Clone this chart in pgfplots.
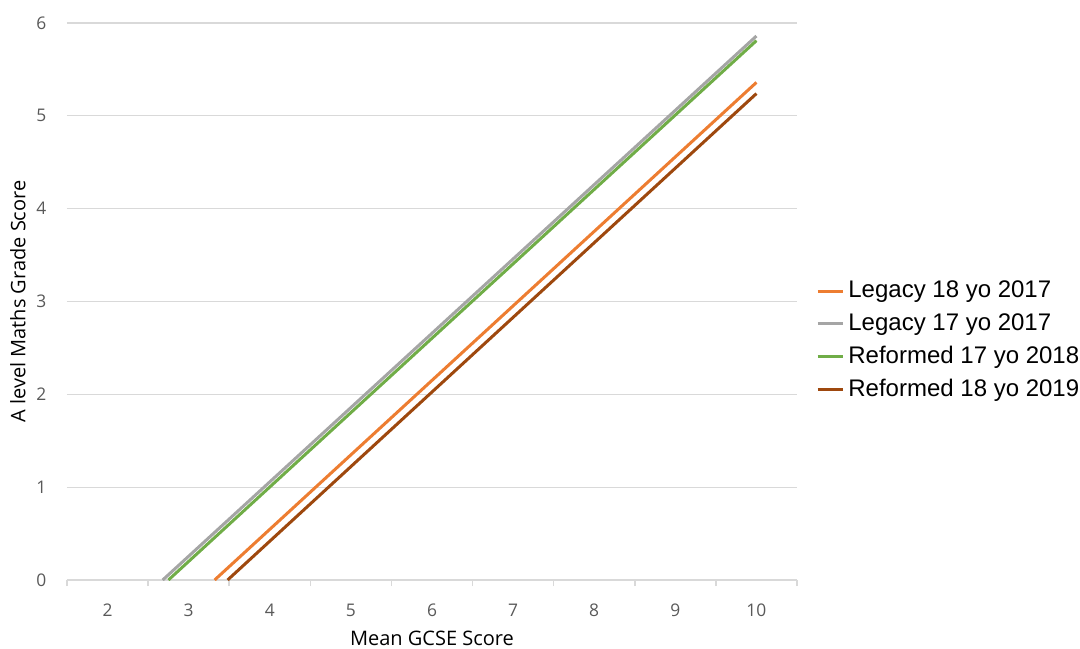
\documentclass[border=0pt]{standalone}
\usepackage{fontspec}
\setmainfont{Open Sans}
\newfontfamily\legfont{Liberation Sans}
\usepackage{pgfplots}
\pgfplotsset{compat=1.18}
\definecolor{cOrange}{HTML}{ED7D31}
\definecolor{cGray}{HTML}{A5A5A5}
\definecolor{cGreen}{HTML}{70AD47}
\definecolor{cBrown}{HTML}{9E480E}
\definecolor{cText}{HTML}{595959}
\definecolor{cGrid}{HTML}{D9D9D9}
\begin{document}
\begin{tikzpicture}
\useasboundingbox (-33.5pt,-34pt) rectangle (506.5pt,290pt);
\begin{axis}[
  scale only axis,
  anchor=south west,
  at={(0pt,0pt)},
  width=365pt, height=278.5pt,
  xmin=1.5, xmax=10.5,
  ymin=0, ymax=6,
  xtick={2,...,10},
  minor xtick={1.5,2.5,...,10.5},
  ytick={0,...,6},
  axis x line*=bottom,
  axis y line*=left,
  x axis line style={draw=cGrid, line width=0.8pt, -},
  y axis line style={draw=none},
  major x tick style={draw=none},
  minor x tick style={draw=cGrid, line width=0.8pt},
  minor tick length=3pt,
  tick align=outside,
  ytick style={draw=none},
  ymajorgrids=true,
  grid style={draw=cGrid, line width=0.6pt},
  /pgf/number format/assume math mode=true,
  tick label style={font=\fontsize{8.7}{10}\selectfont, text=cText},
  xticklabel style={yshift=-4pt},
  yticklabel style={xshift=-2.5pt},
  xlabel={Mean GCSE Score},
  ylabel={A level Maths Grade Score},
  label style={font=\fontsize{10.3}{12}\selectfont, text=cText},
  every axis x label/.style={at={(axis description cs:0.5,0)}, anchor=center, yshift=-29pt},
  every axis y label/.style={at={(axis description cs:0,0.5)}, anchor=center, rotate=90, yshift=24.5pt},
  legend style={at={(1,0.43)}, anchor=west, xshift=7.5pt, draw=none, fill=none,
    font=\legfont\fontsize{12}{14}\selectfont, row sep=2.4pt, inner sep=2pt},
  legend cell align=left,
  legend image code/.code={\draw[#1, line width=1.5pt] (0pt,0pt) -- (10pt,0pt); \path (0pt,0pt) -- (12.5pt,0pt);},
]
\addplot[cOrange, line width=1.5pt] coordinates {(3.32,0) (10,5.36)};
\addlegendentry{Legacy 18 yo 2017}
\addplot[cGray, line width=1.5pt] coordinates {(2.68,0) (10,5.86)};
\addlegendentry{Legacy 17 yo 2017}
\addplot[cGreen, line width=1.5pt] coordinates {(2.75,0) (10,5.81)};
\addlegendentry{Reformed 17 yo 2018}
\addplot[cBrown, line width=1.5pt] coordinates {(3.48,0) (10,5.24)};
\addlegendentry{Reformed 18 yo 2019}
\end{axis}
\end{tikzpicture}
\end{document}
